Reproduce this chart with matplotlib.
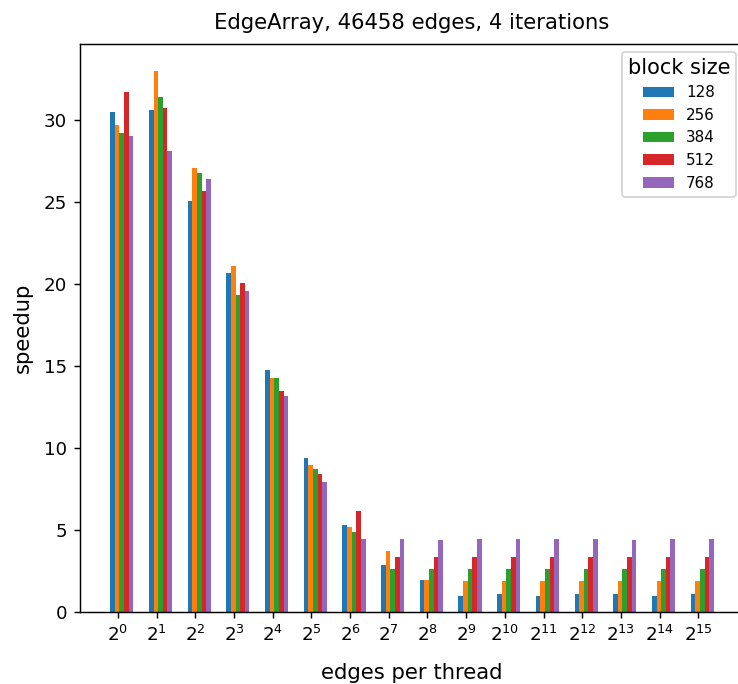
import numpy as np
import matplotlib
matplotlib.use("Agg")
import matplotlib.pyplot as plt

# speedup per block size, one value per edges-per-thread exponent (2^0 .. 2^15)
exponents = list(range(16))
block_sizes = [128, 256, 384, 512, 768]

speedup_128 = [30.5, 30.6, 25.05, 20.7, 14.75, 9.4, 5.3, 2.85, 1.95, 1.0, 1.1, 1.0, 1.1, 1.1, 1.0, 1.1]
speedup_256 = [29.7, 33.0, 27.1, 21.1, 14.3, 8.95, 5.2, 3.7, 1.95, 1.9, 1.9, 1.9, 1.9, 1.9, 1.9, 1.9]
speedup_384 = [29.2, 31.4, 26.8, 19.35, 14.3, 8.75, 4.9, 2.65, 2.65, 2.65, 2.65, 2.65, 2.65, 2.65, 2.65, 2.65]
speedup_512 = [31.7, 30.75, 25.7, 20.1, 13.5, 8.4, 6.15, 3.35, 3.35, 3.35, 3.35, 3.35, 3.35, 3.35, 3.35, 3.35]
speedup_768 = [29.05, 28.15, 26.4, 19.6, 13.2, 7.9, 4.45, 4.45, 4.4, 4.45, 4.45, 4.45, 4.45, 4.4, 4.45, 4.45]

series = [speedup_128, speedup_256, speedup_384, speedup_512, speedup_768]

DPI = 131
fig = plt.figure(figsize=(738 / DPI, 684 / DPI), dpi=DPI)
# axes run a little past the right edge of the canvas
ax = fig.add_axes([80 / 738, 72 / 684, 664 / 738, 568 / 684])
ax.spines["right"].set_visible(False)

x = np.arange(len(exponents))
w = 0.12
for k, (bs, vals) in enumerate(zip(block_sizes, series)):
    ax.bar(x - 0.2 + k * w, vals, width=w, align="edge", label=str(bs))

ax.set_xticks(x)
ax.set_xticklabels([f"$2^{{{e}}}$" for e in exponents])
ax.set_xlabel("edges per thread", fontsize=11.6, labelpad=10)
ax.set_ylabel("speedup", fontsize=11.6, labelpad=6)
ax.set_title("EdgeArray, 46458 edges, 4 iterations", fontsize=11.6, pad=8.5)
ax.legend(title="block size", fontsize="small", title_fontsize=11.5,
          loc="upper right")

fig.savefig("out.png", dpi=DPI)
